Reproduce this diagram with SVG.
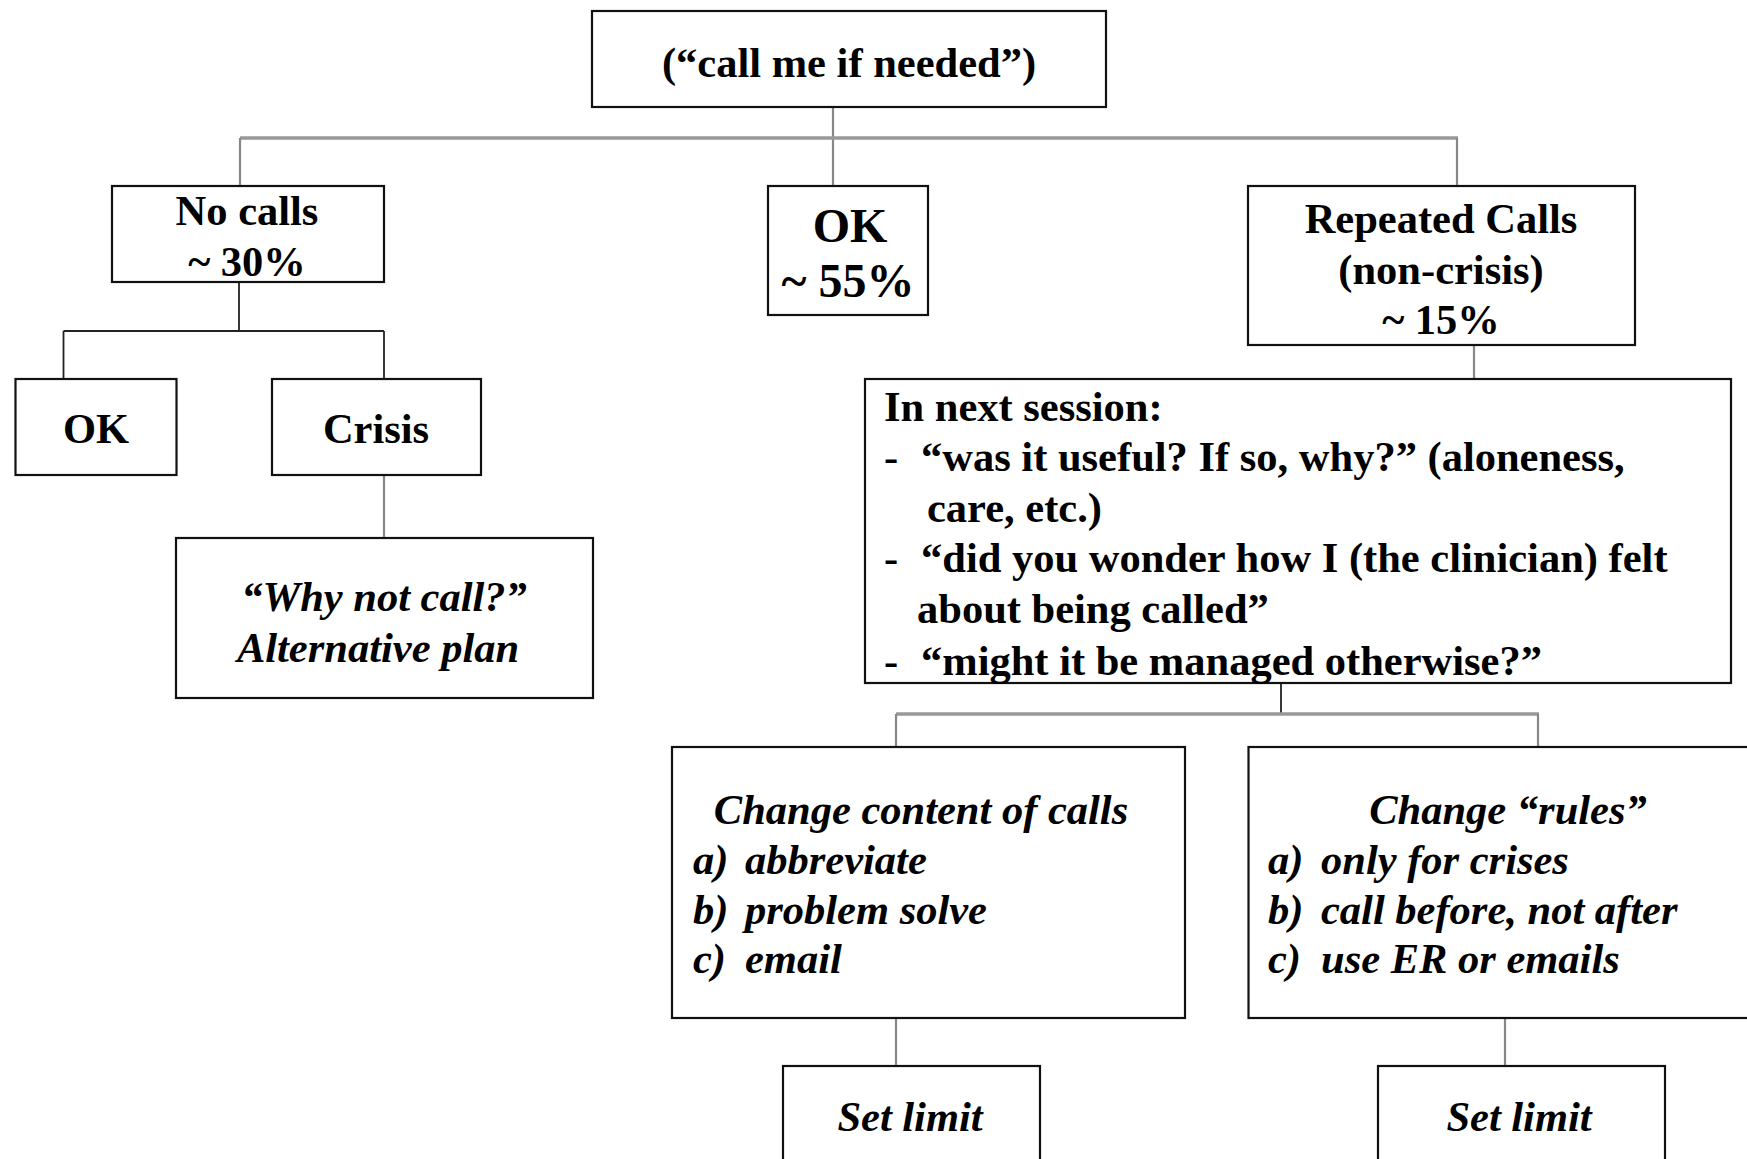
<svg xmlns="http://www.w3.org/2000/svg" width="1747" height="1159" viewBox="0 0 1747 1159">
<style>
.box{fill:#fff;stroke:#111;stroke-width:2.2}
.t{font-family:"Liberation Serif","Times New Roman",serif;font-weight:bold;font-size:42.5px;fill:#000}
.i{font-style:italic}
.c{text-anchor:middle}
.bar{stroke:#999;stroke-width:3.5;fill:none}
.g{stroke:#888;stroke-width:2.2;fill:none}
.k{stroke:#222;stroke-width:1.8;fill:none}
</style>
<rect width="1747" height="1159" fill="#fff"/>
<g id="connectors">
<line class="g" x1="833" y1="107" x2="833" y2="186"/>
<line class="bar" x1="240" y1="138" x2="1458" y2="138"/>
<line class="g" x1="240" y1="138" x2="240" y2="186"/>
<line class="g" x1="1457" y1="138" x2="1457" y2="186"/>
<line class="k" x1="239" y1="282" x2="239" y2="331"/>
<line class="k" x1="63.5" y1="331" x2="384" y2="331"/>
<line class="k" x1="63.5" y1="331" x2="63.5" y2="379"/>
<line class="k" x1="384" y1="331" x2="384" y2="379"/>
<line class="g" x1="384" y1="475" x2="384" y2="538"/>
<line class="g" x1="1474" y1="345" x2="1474" y2="379"/>
<line class="k" x1="1281" y1="683" x2="1281" y2="714"/>
<line class="bar" x1="896" y1="714" x2="1539" y2="714"/>
<line class="g" x1="896" y1="714" x2="896" y2="747"/>
<line class="g" x1="1538" y1="714" x2="1538" y2="747"/>
<line class="g" x1="896" y1="1018" x2="896" y2="1066"/>
<line class="g" x1="1505" y1="1018" x2="1505" y2="1066"/>
</g>
<g id="root">
<rect class="box" x="592" y="11" width="514" height="96"/>
<text class="t c" x="849" y="77">(“call me if needed”)</text>
</g>
<g id="nocalls">
<rect class="box" x="112" y="186" width="272" height="96"/>
<text class="t c" x="247" y="225">No calls</text>
<text class="t c" x="247" y="276">~ 30%</text>
</g>
<g id="ok55">
<rect class="box" x="768" y="186" width="160" height="129"/>
<text class="t c" x="850" y="242" style="font-size:48px">OK</text>
<text class="t c" x="848" y="297" style="font-size:48px">~ 55%</text>
</g>
<g id="repeated">
<rect class="box" x="1248" y="186" width="387" height="159"/>
<text class="t c" x="1441" y="233">Repeated Calls</text>
<text class="t c" x="1441" y="284">(non-crisis)</text>
<text class="t c" x="1441" y="334">~ 15%</text>
</g>
<g id="ok">
<rect class="box" x="15.5" y="379" width="161" height="96"/>
<text class="t c" x="96" y="443">OK</text>
</g>
<g id="crisis">
<rect class="box" x="272" y="379" width="209" height="96"/>
<text class="t c" x="376" y="443">Crisis</text>
</g>
<g id="whynot">
<rect class="box" x="176" y="538" width="417" height="160"/>
<text class="t i c" x="384" y="611">“Why not call?”</text>
<text class="t i c" x="378" y="662">Alternative plan</text>
</g>
<g id="nextsession">
<rect class="box" x="865" y="379" width="866" height="304"/>
<text class="t" x="884" y="421">In next session:</text>
<text class="t" x="884" y="471">-</text>
<text class="t" x="921" y="471">“was it useful? If so, why?” (aloneness,</text>
<text class="t" x="927" y="522">care, etc.)</text>
<text class="t" x="884" y="572">-</text>
<text class="t" x="921" y="572">“did you wonder how I (the clinician) felt</text>
<text class="t" x="917" y="623">about being called”</text>
<text class="t" x="884" y="675">-</text>
<text class="t" x="921" y="675">“might it be managed otherwise?”</text>
</g>
<g id="content">
<rect class="box" x="672" y="747" width="513" height="271"/>
<text class="t i c" x="921" y="824">Change content of calls</text>
<text class="t i" x="693" y="874">a)</text>
<text class="t i" x="745" y="874">abbreviate</text>
<text class="t i" x="693" y="924">b)</text>
<text class="t i" x="745" y="924">problem solve</text>
<text class="t i" x="693" y="973">c)</text>
<text class="t i" x="745" y="973">email</text>
</g>
<g id="rules">
<rect class="box" x="1248.5" y="747" width="520" height="271"/>
<text class="t i c" x="1508" y="824">Change “rules”</text>
<text class="t i" x="1268" y="874">a)</text>
<text class="t i" x="1321" y="874">only for crises</text>
<text class="t i" x="1268" y="924">b)</text>
<text class="t i" x="1321" y="924">call before, not after</text>
<text class="t i" x="1268" y="973">c)</text>
<text class="t i" x="1321" y="973">use ER or emails</text>
</g>
<g id="limit1">
<rect class="box" x="783" y="1066" width="257" height="120"/>
<text class="t i c" x="910" y="1131">Set limit</text>
</g>
<g id="limit2">
<rect class="box" x="1378" y="1066" width="287" height="120"/>
<text class="t i c" x="1519" y="1131">Set limit</text>
</g>
</svg>
